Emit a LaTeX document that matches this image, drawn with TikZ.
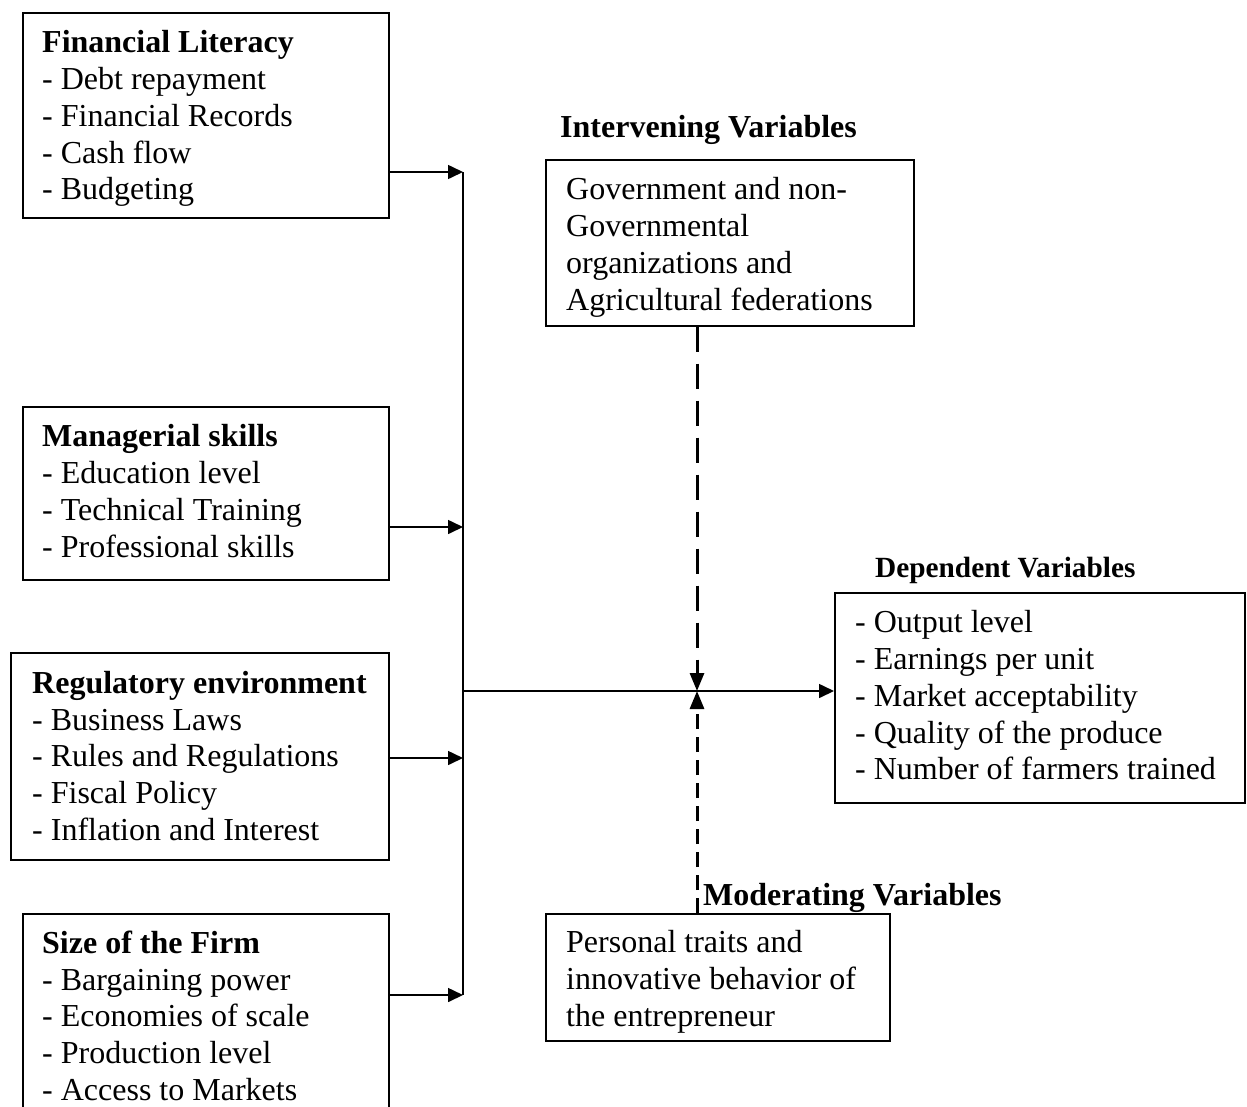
\documentclass[tikz,border=0pt]{standalone}
\usepackage{fontspec}
\setmainfont{Liberation Serif}
\usetikzlibrary{arrows.meta}
\newcommand{\hd}[1]{{\fontsize{32}{36.8}\selectfont\bfseries #1}}
\tikzset{
  frame/.style 2 args={draw, line width=1.6pt, anchor=north west, inner sep=0pt,
    minimum width=#1, minimum height=#2},
  boxtext/.style={anchor=north west, align=left, inner sep=0pt,
    font=\fontsize{32}{36.8}\selectfont},
  heading/.style={anchor=base west, inner sep=0pt, font=\fontsize{32}{36.8}\selectfont\bfseries},
  link/.style={line width=1.6pt, -{Triangle[length=15pt,width=14pt]}},
  bus/.style={line width=1.6pt},
  longdash/.style={line width=3pt, dash pattern=on 25pt off 12pt, -{Triangle[length=18pt,width=14pt]}},
  shortdash/.style={line width=3pt, dash pattern=on 15pt off 8pt, -{Triangle[length=18pt,width=14pt]}}
}
\begin{document}
\begin{tikzpicture}[x=1pt,y=-1pt]
\useasboundingbox (0,0) rectangle (1247,1106);

% frames
\node[frame={366pt}{205pt}] (fin) at (22,12) {};
\node[frame={366pt}{173pt}] (man) at (22,406) {};
\node[frame={378pt}{207pt}] (reg) at (10,652) {};
\node[frame={366pt}{214pt}] (size) at (22,913) {};
\node[frame={368pt}{166pt}] (int) at (545,159) {};
\node[frame={410pt}{210pt}] (dep) at (834,592) {};
\node[frame={344pt}{127pt}] (mod) at (545,913) {};

% texts
\node[boxtext] (fintxt) at (42,26.74)
  {\strut\hd{Financial Literacy}\\- Debt repayment\\- Financial Records\\- Cash flow\\- Budgeting};
\node[boxtext] (mantxt) at (42,420.74)
  {\strut\hd{Managerial skills}\\- Education level\\- Technical Training\\- Professional skills};
\node[boxtext] (regtxt) at (32,667.24)
  {\strut\hd{Regulatory environment}\\- Business Laws\\- Rules and Regulations\\- Fiscal Policy\\- Inflation and Interest};
\node[boxtext] (sizetxt) at (42,927.24)
  {\strut\hd{Size of the Firm}\\- Bargaining power\\- Economies of scale\\- Production level\\- Access to Markets};
\node[boxtext] (inttxt) at (566,173.74)
  {\strut Government and non-\\Governmental\\organizations and\\Agricultural federations};
\node[boxtext] (deptxt) at (855,606.74)
  {\strut- Output level\\- Earnings per unit\\- Market acceptability\\- Quality of the produce\\- Number of farmers trained};
\node[boxtext] (modtxt) at (566,926.74)
  {\strut Personal traits and\\innovative behavior of\\the entrepreneur};

% headings
\node[heading] (inth) at (560,137) {Intervening Variables};
\node[heading, font=\fontsize{29.3}{34}\selectfont\bfseries] (deph) at (875,577) {Dependent Variables};

% connectors
\coordinate (b1) at (463,172);
\coordinate (b2) at (463,527);
\coordinate (b3) at (463,758);
\coordinate (b4) at (463,995);
\coordinate (bm) at (463,691);
\coordinate (jc) at (697,691);

\draw[bus] (b1) -- (b4);
\draw[link] (fin.east |- b1) -- (b1);
\draw[link] (man.east |- b2) -- (b2);
\draw[link] (reg.east |- b3) -- (b3);
\draw[link] (size.east |- b4) -- (b4);
\draw[link] (bm) -- (dep.west |- bm);

\draw[longdash] (jc |- int.south) -- (jc);
\draw[shortdash] (jc |- mod.north) -- (jc);

\node[heading] (modh) at (703,905) {Moderating Variables};
\end{tikzpicture}
\end{document}
